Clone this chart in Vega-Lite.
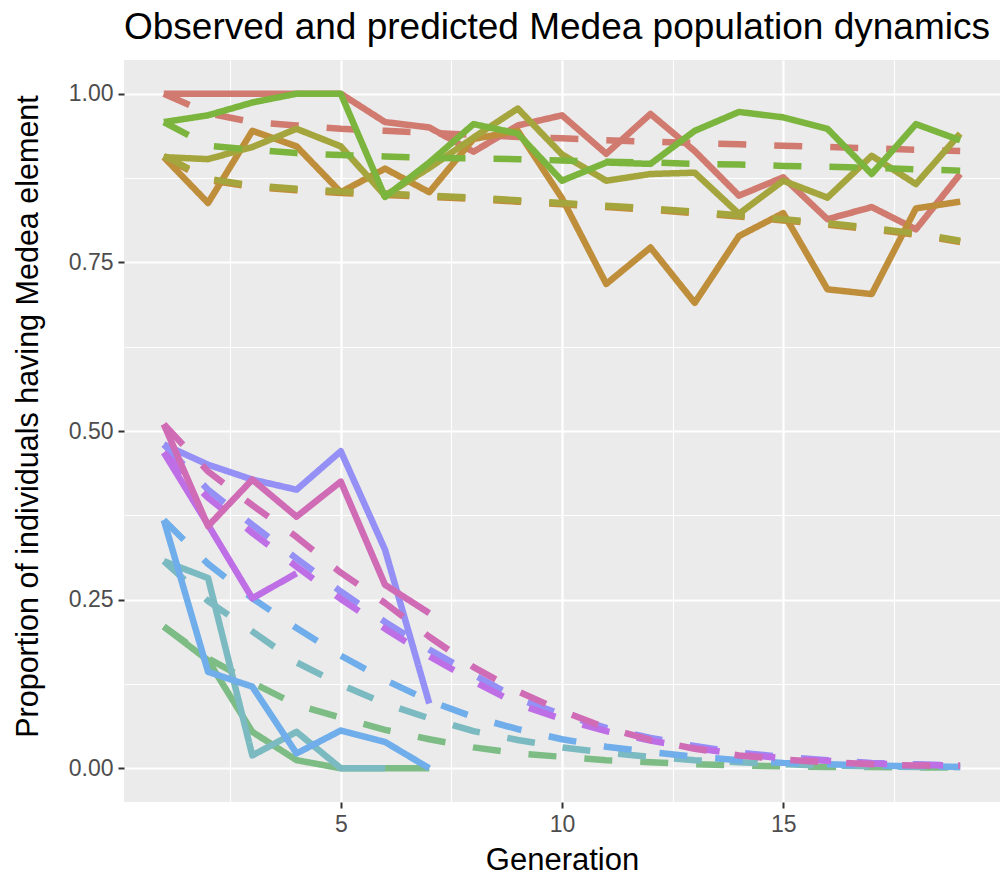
{
  "$schema": "https://vega.github.io/schema/vega-lite/v6.json",
  "width": 876,
  "height": 742,
  "autosize": {"type": "none"},
  "padding": {"left": 124, "top": 60, "right": 2, "bottom": 77},
  "background": "white",
  "title": {"text": "Observed and predicted Medea population dynamics", "anchor": "start", "frame": "group", "fontSize": 37, "font": "Liberation Sans", "fontWeight": "normal", "color": "black", "offset": 13},
  "config": {"font": "Liberation Sans", "view": {"fill": "#EBEBEB", "stroke": null}},
  "data": {"values": [
    {"pop":"A","type":"observed","gen":1,"p":1.0},{"pop":"A","type":"observed","gen":2,"p":1.0},{"pop":"A","type":"observed","gen":3,"p":1.0},{"pop":"A","type":"observed","gen":4,"p":1.0},{"pop":"A","type":"observed","gen":5,"p":1.0},{"pop":"A","type":"observed","gen":6,"p":0.958},{"pop":"A","type":"observed","gen":7,"p":0.95},{"pop":"A","type":"observed","gen":8,"p":0.914},{"pop":"A","type":"observed","gen":9,"p":0.953},{"pop":"A","type":"observed","gen":10,"p":0.968},{"pop":"A","type":"observed","gen":11,"p":0.911},{"pop":"A","type":"observed","gen":12,"p":0.97},{"pop":"A","type":"observed","gen":13,"p":0.915},{"pop":"A","type":"observed","gen":14,"p":0.849},{"pop":"A","type":"observed","gen":15,"p":0.876},{"pop":"A","type":"observed","gen":16,"p":0.814},{"pop":"A","type":"observed","gen":17,"p":0.832},{"pop":"A","type":"observed","gen":18,"p":0.799},{"pop":"A","type":"observed","gen":19,"p":0.881},
    {"pop":"A","type":"predicted","gen":1,"p":1.0},{"pop":"A","type":"predicted","gen":2,"p":0.971},{"pop":"A","type":"predicted","gen":3,"p":0.958},{"pop":"A","type":"predicted","gen":4,"p":0.953},{"pop":"A","type":"predicted","gen":5,"p":0.948},{"pop":"A","type":"predicted","gen":6,"p":0.945},{"pop":"A","type":"predicted","gen":7,"p":0.942},{"pop":"A","type":"predicted","gen":8,"p":0.939},{"pop":"A","type":"predicted","gen":9,"p":0.936},{"pop":"A","type":"predicted","gen":10,"p":0.934},{"pop":"A","type":"predicted","gen":11,"p":0.931},{"pop":"A","type":"predicted","gen":12,"p":0.929},{"pop":"A","type":"predicted","gen":13,"p":0.927},{"pop":"A","type":"predicted","gen":14,"p":0.925},{"pop":"A","type":"predicted","gen":15,"p":0.923},{"pop":"A","type":"predicted","gen":16,"p":0.921},{"pop":"A","type":"predicted","gen":17,"p":0.919},{"pop":"A","type":"predicted","gen":18,"p":0.917},{"pop":"A","type":"predicted","gen":19,"p":0.915},
    {"pop":"B","type":"observed","gen":1,"p":0.906},{"pop":"B","type":"observed","gen":2,"p":0.838},{"pop":"B","type":"observed","gen":3,"p":0.945},{"pop":"B","type":"observed","gen":4,"p":0.922},{"pop":"B","type":"observed","gen":5,"p":0.854},{"pop":"B","type":"observed","gen":6,"p":0.889},{"pop":"B","type":"observed","gen":7,"p":0.854},{"pop":"B","type":"observed","gen":8,"p":0.933},{"pop":"B","type":"observed","gen":9,"p":0.945},{"pop":"B","type":"observed","gen":10,"p":0.845},{"pop":"B","type":"observed","gen":11,"p":0.718},{"pop":"B","type":"observed","gen":12,"p":0.772},{"pop":"B","type":"observed","gen":13,"p":0.69},{"pop":"B","type":"observed","gen":14,"p":0.789},{"pop":"B","type":"observed","gen":15,"p":0.823},{"pop":"B","type":"observed","gen":16,"p":0.71},{"pop":"B","type":"observed","gen":17,"p":0.703},{"pop":"B","type":"observed","gen":18,"p":0.83},{"pop":"B","type":"observed","gen":19,"p":0.84},
    {"pop":"B","type":"predicted","gen":1,"p":0.906},{"pop":"B","type":"predicted","gen":2,"p":0.872},{"pop":"B","type":"predicted","gen":3,"p":0.862},{"pop":"B","type":"predicted","gen":4,"p":0.857},{"pop":"B","type":"predicted","gen":5,"p":0.853},{"pop":"B","type":"predicted","gen":6,"p":0.85},{"pop":"B","type":"predicted","gen":7,"p":0.847},{"pop":"B","type":"predicted","gen":8,"p":0.844},{"pop":"B","type":"predicted","gen":9,"p":0.84},{"pop":"B","type":"predicted","gen":10,"p":0.836},{"pop":"B","type":"predicted","gen":11,"p":0.832},{"pop":"B","type":"predicted","gen":12,"p":0.828},{"pop":"B","type":"predicted","gen":13,"p":0.823},{"pop":"B","type":"predicted","gen":14,"p":0.818},{"pop":"B","type":"predicted","gen":15,"p":0.812},{"pop":"B","type":"predicted","gen":16,"p":0.806},{"pop":"B","type":"predicted","gen":17,"p":0.799},{"pop":"B","type":"predicted","gen":18,"p":0.791},{"pop":"B","type":"predicted","gen":19,"p":0.78},
    {"pop":"C","type":"observed","gen":1,"p":0.906},{"pop":"C","type":"observed","gen":2,"p":0.903},{"pop":"C","type":"observed","gen":3,"p":0.921},{"pop":"C","type":"observed","gen":4,"p":0.948},{"pop":"C","type":"observed","gen":5,"p":0.922},{"pop":"C","type":"observed","gen":6,"p":0.849},{"pop":"C","type":"observed","gen":7,"p":0.89},{"pop":"C","type":"observed","gen":8,"p":0.935},{"pop":"C","type":"observed","gen":9,"p":0.978},{"pop":"C","type":"observed","gen":10,"p":0.91},{"pop":"C","type":"observed","gen":11,"p":0.871},{"pop":"C","type":"observed","gen":12,"p":0.881},{"pop":"C","type":"observed","gen":13,"p":0.883},{"pop":"C","type":"observed","gen":14,"p":0.822},{"pop":"C","type":"observed","gen":15,"p":0.871},{"pop":"C","type":"observed","gen":16,"p":0.846},{"pop":"C","type":"observed","gen":17,"p":0.908},{"pop":"C","type":"observed","gen":18,"p":0.866},{"pop":"C","type":"observed","gen":19,"p":0.941},
    {"pop":"C","type":"predicted","gen":1,"p":0.908},{"pop":"C","type":"predicted","gen":2,"p":0.874},{"pop":"C","type":"predicted","gen":3,"p":0.864},{"pop":"C","type":"predicted","gen":4,"p":0.859},{"pop":"C","type":"predicted","gen":5,"p":0.855},{"pop":"C","type":"predicted","gen":6,"p":0.852},{"pop":"C","type":"predicted","gen":7,"p":0.849},{"pop":"C","type":"predicted","gen":8,"p":0.846},{"pop":"C","type":"predicted","gen":9,"p":0.842},{"pop":"C","type":"predicted","gen":10,"p":0.838},{"pop":"C","type":"predicted","gen":11,"p":0.834},{"pop":"C","type":"predicted","gen":12,"p":0.83},{"pop":"C","type":"predicted","gen":13,"p":0.825},{"pop":"C","type":"predicted","gen":14,"p":0.82},{"pop":"C","type":"predicted","gen":15,"p":0.814},{"pop":"C","type":"predicted","gen":16,"p":0.808},{"pop":"C","type":"predicted","gen":17,"p":0.801},{"pop":"C","type":"predicted","gen":18,"p":0.793},{"pop":"C","type":"predicted","gen":19,"p":0.782},
    {"pop":"D","type":"observed","gen":1,"p":0.958},{"pop":"D","type":"observed","gen":2,"p":0.968},{"pop":"D","type":"observed","gen":3,"p":0.987},{"pop":"D","type":"observed","gen":4,"p":1.0},{"pop":"D","type":"observed","gen":5,"p":1.0},{"pop":"D","type":"observed","gen":6,"p":0.847},{"pop":"D","type":"observed","gen":7,"p":0.898},{"pop":"D","type":"observed","gen":8,"p":0.955},{"pop":"D","type":"observed","gen":9,"p":0.941},{"pop":"D","type":"observed","gen":10,"p":0.871},{"pop":"D","type":"observed","gen":11,"p":0.898},{"pop":"D","type":"observed","gen":12,"p":0.896},{"pop":"D","type":"observed","gen":13,"p":0.945},{"pop":"D","type":"observed","gen":14,"p":0.973},{"pop":"D","type":"observed","gen":15,"p":0.965},{"pop":"D","type":"observed","gen":16,"p":0.948},{"pop":"D","type":"observed","gen":17,"p":0.881},{"pop":"D","type":"observed","gen":18,"p":0.955},{"pop":"D","type":"observed","gen":19,"p":0.931},
    {"pop":"D","type":"predicted","gen":1,"p":0.958},{"pop":"D","type":"predicted","gen":2,"p":0.923},{"pop":"D","type":"predicted","gen":3,"p":0.917},{"pop":"D","type":"predicted","gen":4,"p":0.912},{"pop":"D","type":"predicted","gen":5,"p":0.909},{"pop":"D","type":"predicted","gen":6,"p":0.907},{"pop":"D","type":"predicted","gen":7,"p":0.905},{"pop":"D","type":"predicted","gen":8,"p":0.904},{"pop":"D","type":"predicted","gen":9,"p":0.903},{"pop":"D","type":"predicted","gen":10,"p":0.901},{"pop":"D","type":"predicted","gen":11,"p":0.899},{"pop":"D","type":"predicted","gen":12,"p":0.898},{"pop":"D","type":"predicted","gen":13,"p":0.896},{"pop":"D","type":"predicted","gen":14,"p":0.895},{"pop":"D","type":"predicted","gen":15,"p":0.893},{"pop":"D","type":"predicted","gen":16,"p":0.892},{"pop":"D","type":"predicted","gen":17,"p":0.89},{"pop":"D","type":"predicted","gen":18,"p":0.888},{"pop":"D","type":"predicted","gen":19,"p":0.886},
    {"pop":"E","type":"observed","gen":1,"p":0.21},{"pop":"E","type":"observed","gen":2,"p":0.16},{"pop":"E","type":"observed","gen":3,"p":0.054},{"pop":"E","type":"observed","gen":4,"p":0.012},{"pop":"E","type":"observed","gen":5,"p":0.0},{"pop":"E","type":"observed","gen":6,"p":0.0},{"pop":"E","type":"observed","gen":7,"p":0.0},
    {"pop":"E","type":"predicted","gen":1,"p":0.21},{"pop":"E","type":"predicted","gen":2,"p":0.163},{"pop":"E","type":"predicted","gen":3,"p":0.127},{"pop":"E","type":"predicted","gen":4,"p":0.094},{"pop":"E","type":"predicted","gen":5,"p":0.075},{"pop":"E","type":"predicted","gen":6,"p":0.057},{"pop":"E","type":"predicted","gen":7,"p":0.043},{"pop":"E","type":"predicted","gen":8,"p":0.031},{"pop":"E","type":"predicted","gen":9,"p":0.022},{"pop":"E","type":"predicted","gen":10,"p":0.017},{"pop":"E","type":"predicted","gen":11,"p":0.012},{"pop":"E","type":"predicted","gen":12,"p":0.009},{"pop":"E","type":"predicted","gen":13,"p":0.006},{"pop":"E","type":"predicted","gen":14,"p":0.004},{"pop":"E","type":"predicted","gen":15,"p":0.003},{"pop":"E","type":"predicted","gen":16,"p":0.002},{"pop":"E","type":"predicted","gen":17,"p":0.002},{"pop":"E","type":"predicted","gen":18,"p":0.001},{"pop":"E","type":"predicted","gen":19,"p":0.001},
    {"pop":"F","type":"observed","gen":1,"p":0.307},{"pop":"F","type":"observed","gen":2,"p":0.282},{"pop":"F","type":"observed","gen":3,"p":0.019},{"pop":"F","type":"observed","gen":4,"p":0.054},{"pop":"F","type":"observed","gen":5,"p":0.0},{"pop":"F","type":"observed","gen":6,"p":0.0},
    {"pop":"F","type":"predicted","gen":1,"p":0.307},{"pop":"F","type":"predicted","gen":2,"p":0.248},{"pop":"F","type":"predicted","gen":3,"p":0.203},{"pop":"F","type":"predicted","gen":4,"p":0.157},{"pop":"F","type":"predicted","gen":5,"p":0.124},{"pop":"F","type":"predicted","gen":6,"p":0.096},{"pop":"F","type":"predicted","gen":7,"p":0.074},{"pop":"F","type":"predicted","gen":8,"p":0.055},{"pop":"F","type":"predicted","gen":9,"p":0.042},{"pop":"F","type":"predicted","gen":10,"p":0.031},{"pop":"F","type":"predicted","gen":11,"p":0.023},{"pop":"F","type":"predicted","gen":12,"p":0.017},{"pop":"F","type":"predicted","gen":13,"p":0.012},{"pop":"F","type":"predicted","gen":14,"p":0.009},{"pop":"F","type":"predicted","gen":15,"p":0.006},{"pop":"F","type":"predicted","gen":16,"p":0.004},{"pop":"F","type":"predicted","gen":17,"p":0.003},{"pop":"F","type":"predicted","gen":18,"p":0.002},{"pop":"F","type":"predicted","gen":19,"p":0.002},
    {"pop":"G","type":"observed","gen":1,"p":0.368},{"pop":"G","type":"observed","gen":2,"p":0.143},{"pop":"G","type":"observed","gen":3,"p":0.121},{"pop":"G","type":"observed","gen":4,"p":0.022},{"pop":"G","type":"observed","gen":5,"p":0.056},{"pop":"G","type":"observed","gen":6,"p":0.039},{"pop":"G","type":"observed","gen":7,"p":0.0},
    {"pop":"G","type":"predicted","gen":1,"p":0.368},{"pop":"G","type":"predicted","gen":2,"p":0.303},{"pop":"G","type":"predicted","gen":3,"p":0.252},{"pop":"G","type":"predicted","gen":4,"p":0.208},{"pop":"G","type":"predicted","gen":5,"p":0.167},{"pop":"G","type":"predicted","gen":6,"p":0.131},{"pop":"G","type":"predicted","gen":7,"p":0.1},{"pop":"G","type":"predicted","gen":8,"p":0.076},{"pop":"G","type":"predicted","gen":9,"p":0.058},{"pop":"G","type":"predicted","gen":10,"p":0.043},{"pop":"G","type":"predicted","gen":11,"p":0.032},{"pop":"G","type":"predicted","gen":12,"p":0.024},{"pop":"G","type":"predicted","gen":13,"p":0.017},{"pop":"G","type":"predicted","gen":14,"p":0.012},{"pop":"G","type":"predicted","gen":15,"p":0.008},{"pop":"G","type":"predicted","gen":16,"p":0.006},{"pop":"G","type":"predicted","gen":17,"p":0.004},{"pop":"G","type":"predicted","gen":18,"p":0.003},{"pop":"G","type":"predicted","gen":19,"p":0.002},
    {"pop":"H","type":"observed","gen":1,"p":0.48},{"pop":"H","type":"observed","gen":2,"p":0.45},{"pop":"H","type":"observed","gen":3,"p":0.428},{"pop":"H","type":"observed","gen":4,"p":0.413},{"pop":"H","type":"observed","gen":5,"p":0.47},{"pop":"H","type":"observed","gen":6,"p":0.324},{"pop":"H","type":"observed","gen":7,"p":0.096},
    {"pop":"H","type":"predicted","gen":1,"p":0.48},{"pop":"H","type":"predicted","gen":2,"p":0.413},{"pop":"H","type":"predicted","gen":3,"p":0.361},{"pop":"H","type":"predicted","gen":4,"p":0.311},{"pop":"H","type":"predicted","gen":5,"p":0.262},{"pop":"H","type":"predicted","gen":6,"p":0.217},{"pop":"H","type":"predicted","gen":7,"p":0.176},{"pop":"H","type":"predicted","gen":8,"p":0.139},{"pop":"H","type":"predicted","gen":9,"p":0.103},{"pop":"H","type":"predicted","gen":10,"p":0.08},{"pop":"H","type":"predicted","gen":11,"p":0.06},{"pop":"H","type":"predicted","gen":12,"p":0.045},{"pop":"H","type":"predicted","gen":13,"p":0.033},{"pop":"H","type":"predicted","gen":14,"p":0.023},{"pop":"H","type":"predicted","gen":15,"p":0.017},{"pop":"H","type":"predicted","gen":16,"p":0.012},{"pop":"H","type":"predicted","gen":17,"p":0.008},{"pop":"H","type":"predicted","gen":18,"p":0.006},{"pop":"H","type":"predicted","gen":19,"p":0.004},
    {"pop":"I","type":"observed","gen":1,"p":0.468},{"pop":"I","type":"observed","gen":2,"p":0.361},{"pop":"I","type":"observed","gen":3,"p":0.252},{"pop":"I","type":"observed","gen":4,"p":0.289},
    {"pop":"I","type":"predicted","gen":1,"p":0.468},{"pop":"I","type":"predicted","gen":2,"p":0.401},{"pop":"I","type":"predicted","gen":3,"p":0.349},{"pop":"I","type":"predicted","gen":4,"p":0.299},{"pop":"I","type":"predicted","gen":5,"p":0.251},{"pop":"I","type":"predicted","gen":6,"p":0.207},{"pop":"I","type":"predicted","gen":7,"p":0.166},{"pop":"I","type":"predicted","gen":8,"p":0.129},{"pop":"I","type":"predicted","gen":9,"p":0.095},{"pop":"I","type":"predicted","gen":10,"p":0.073},{"pop":"I","type":"predicted","gen":11,"p":0.055},{"pop":"I","type":"predicted","gen":12,"p":0.041},{"pop":"I","type":"predicted","gen":13,"p":0.03},{"pop":"I","type":"predicted","gen":14,"p":0.021},{"pop":"I","type":"predicted","gen":15,"p":0.015},{"pop":"I","type":"predicted","gen":16,"p":0.011},{"pop":"I","type":"predicted","gen":17,"p":0.007},{"pop":"I","type":"predicted","gen":18,"p":0.005},{"pop":"I","type":"predicted","gen":19,"p":0.004},
    {"pop":"J","type":"observed","gen":1,"p":0.51},{"pop":"J","type":"observed","gen":2,"p":0.359},{"pop":"J","type":"observed","gen":3,"p":0.428},{"pop":"J","type":"observed","gen":4,"p":0.373},{"pop":"J","type":"observed","gen":5,"p":0.425},{"pop":"J","type":"observed","gen":6,"p":0.272},{"pop":"J","type":"observed","gen":7,"p":0.23},
    {"pop":"J","type":"predicted","gen":1,"p":0.51},{"pop":"J","type":"predicted","gen":2,"p":0.44},{"pop":"J","type":"predicted","gen":3,"p":0.39},{"pop":"J","type":"predicted","gen":4,"p":0.343},{"pop":"J","type":"predicted","gen":5,"p":0.29},{"pop":"J","type":"predicted","gen":6,"p":0.245},{"pop":"J","type":"predicted","gen":7,"p":0.195},{"pop":"J","type":"predicted","gen":8,"p":0.15},{"pop":"J","type":"predicted","gen":9,"p":0.114},{"pop":"J","type":"predicted","gen":10,"p":0.085},{"pop":"J","type":"predicted","gen":11,"p":0.06},{"pop":"J","type":"predicted","gen":12,"p":0.042},{"pop":"J","type":"predicted","gen":13,"p":0.029},{"pop":"J","type":"predicted","gen":14,"p":0.019},{"pop":"J","type":"predicted","gen":15,"p":0.013},{"pop":"J","type":"predicted","gen":16,"p":0.009},{"pop":"J","type":"predicted","gen":17,"p":0.006},{"pop":"J","type":"predicted","gen":18,"p":0.004},{"pop":"J","type":"predicted","gen":19,"p":0.004}
  ]},
  "mark": {"type": "line", "strokeWidth": 6.5, "strokeCap": "butt", "strokeJoin": "round", "clip": true},
  "encoding": {
    "x": {
      "field": "gen", "type": "quantitative", "title": "Generation",
      "scale": {"domain": [0.1, 19.9], "nice": false, "zero": false},
      "axis": {
        "values": [2.5, 5, 7.5, 10, 12.5, 15, 17.5],
        "labelExpr": "datum.value % 5 == 0 ? format(datum.value, 'd') : ''",
        "domain": false,
        "gridColor": "white",
        "gridWidth": {"condition": {"test": "datum.value % 5 != 0", "value": 1.1}, "value": 2.2},
        "tickOpacity": {"condition": {"test": "datum.value % 5 != 0", "value": 0}, "value": 1},
        "tickColor": "#333333", "tickWidth": 2, "tickSize": 6,
        "labelColor": "#4D4D4D", "labelFontSize": 23, "labelPadding": 5, "labelFont": "Liberation Sans",
        "titleFontSize": 31, "titleFontWeight": "normal", "titleColor": "black", "titlePadding": 9, "titleFont": "Liberation Sans"
      }
    },
    "y": {
      "field": "p", "type": "quantitative", "title": "Proportion of individuals having Medea element",
      "scale": {"domain": [-0.05, 1.05], "nice": false, "zero": false},
      "axis": {
        "values": [0, 0.125, 0.25, 0.375, 0.5, 0.625, 0.75, 0.875, 1],
        "labelExpr": "(datum.value * 4) % 1 == 0 ? format(datum.value, '.2f') : ''",
        "domain": false,
        "gridColor": "white",
        "gridWidth": {"condition": {"test": "(datum.value * 4) % 1 != 0", "value": 1.1}, "value": 2.2},
        "tickOpacity": {"condition": {"test": "(datum.value * 4) % 1 != 0", "value": 0}, "value": 1},
        "tickColor": "#333333", "tickWidth": 2, "tickSize": 6,
        "labelColor": "#4D4D4D", "labelFontSize": 23, "labelPadding": 5, "labelFont": "Liberation Sans",
        "titleFontSize": 30.5, "titleFontWeight": "normal", "titleColor": "black", "titlePadding": 25, "titleY": 356, "titleFont": "Liberation Sans"
      }
    },
    "color": {
      "field": "pop", "type": "nominal", "legend": null,
      "scale": {"domain": ["A","B","C","D","E","F","G","H","I","J"], "range": ["#D07A70","#BF8E3A","#A5A53E","#7CB53E","#7DBD85","#7BBAC0","#70ADEB","#9590F5","#BE6FE6","#D06BB5"]}
    },
    "strokeDash": {
      "field": "type", "type": "nominal", "legend": null,
      "scale": {"domain": ["observed","predicted"], "range": [[1,0],[28,28]]}
    }
  }
}
